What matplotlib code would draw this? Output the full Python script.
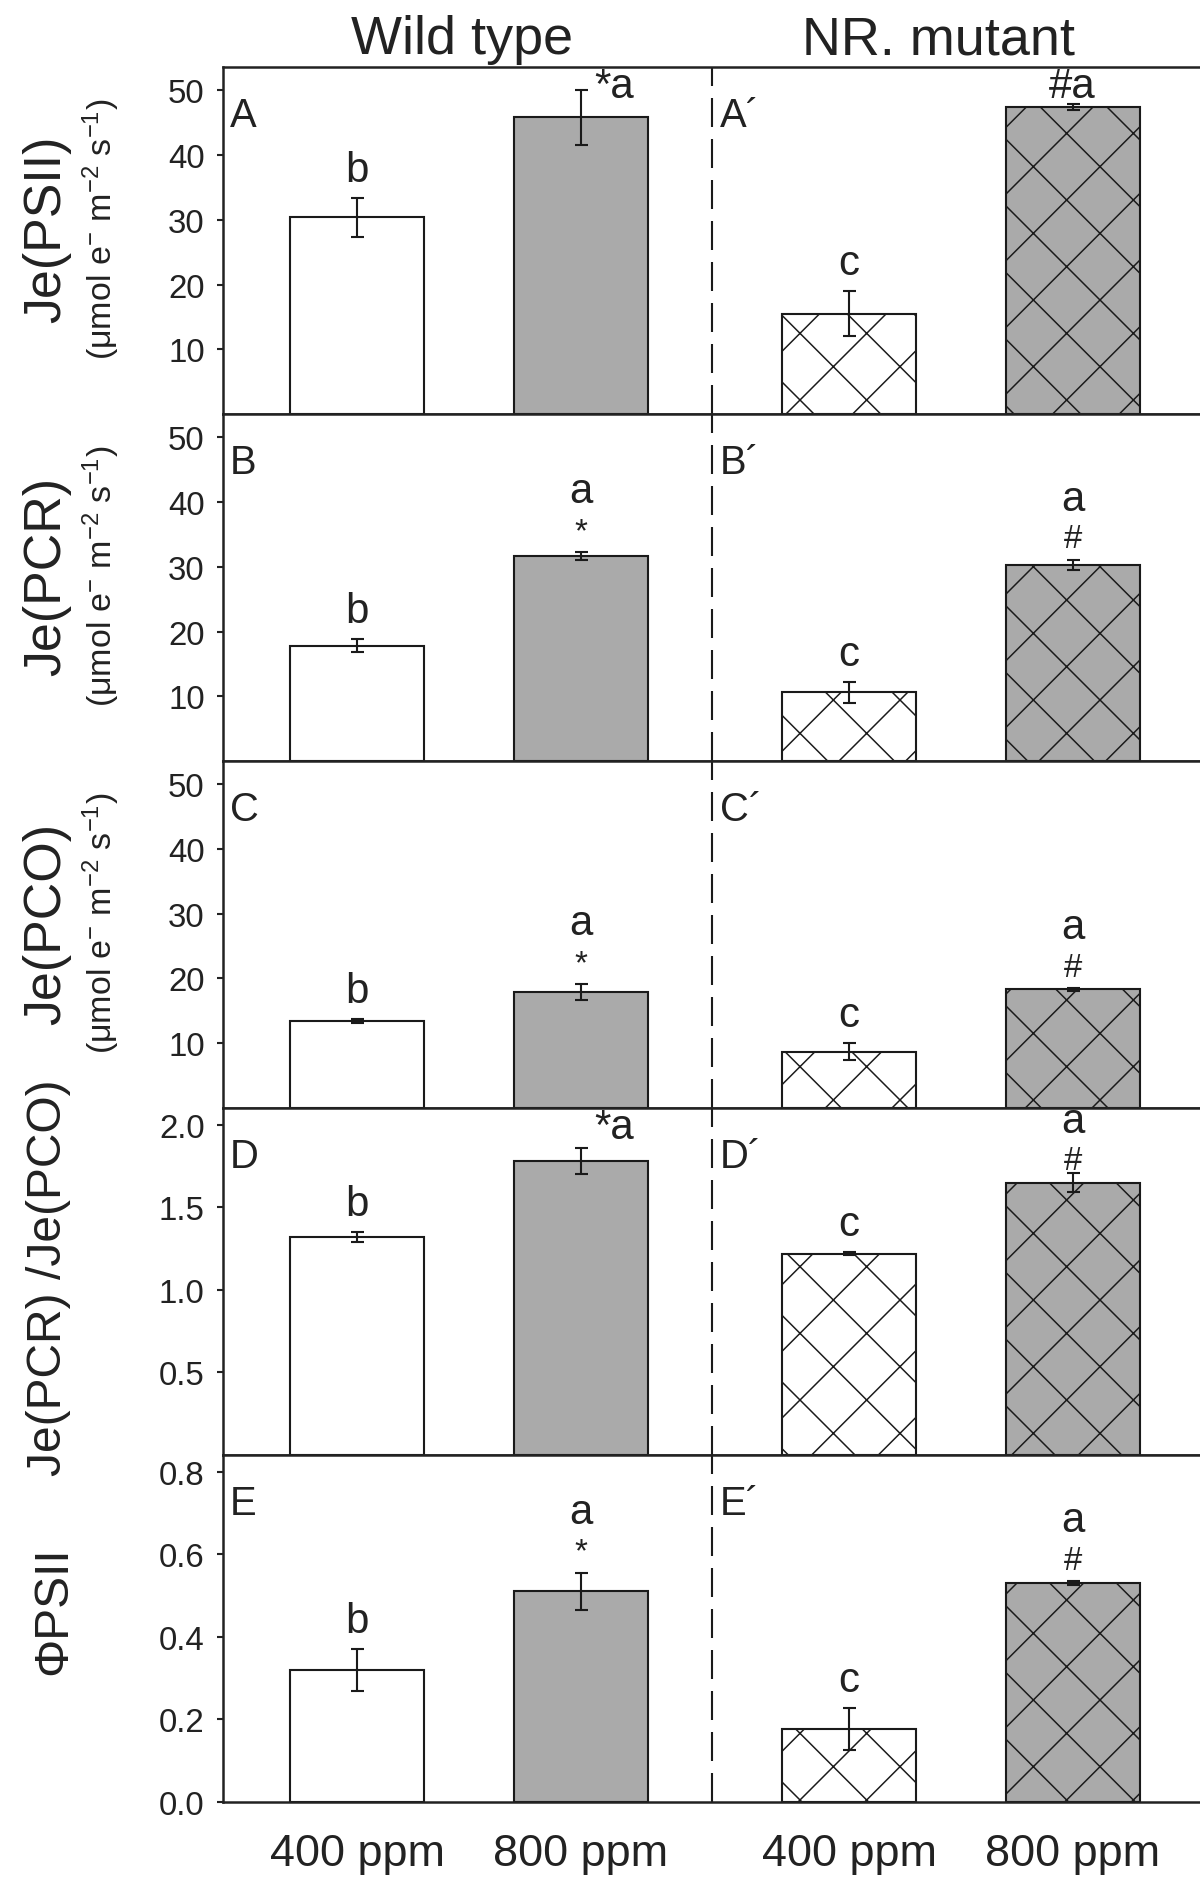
import matplotlib
matplotlib.use('Agg')
import matplotlib.pyplot as plt

DPI = 200  # chosen so that the 'x' hatch has about the reference spacing


def P(px):
    # size given in output pixels -> points
    return px * 72.0 / DPI


# fonts / style
plt.rcParams['font.family'] = ['Liberation Sans', 'DejaVu Sans']
plt.rcParams['mathtext.default'] = 'regular'
plt.rcParams['hatch.linewidth'] = P(1.5)
plt.rcParams['lines.scale_dashes'] = False

# data
groups = ['Wild type', 'NR. mutant']
treatments = ['400 ppm', '800 ppm', '400 ppm', '800 ppm']
panel_names = ['A', 'B', 'C', 'D', 'E']

jpsii = [30.4, 45.8, 15.5, 47.4]
jpsii_err = [3.0, 4.2, 3.5, 0.4]
jpcr = [17.8, 31.6, 10.6, 30.3]
jpcr_err = [1.0, 0.6, 1.6, 0.8]
jpco = [13.5, 17.9, 8.7, 18.3]
jpco_err = [0.3, 1.2, 1.3, 0.2]
ratio = [1.32, 1.78, 1.22, 1.65]
ratio_err = [0.03, 0.08, 0.01, 0.06]
phipsii = [0.32, 0.51, 0.177, 0.53]
phipsii_err = [0.05, 0.045, 0.05, 0.005]

values = [jpsii, jpcr, jpco, ratio, phipsii]
errors = [jpsii_err, jpcr_err, jpco_err, ratio_err, phipsii_err]

letters = ['b', 'a', 'c', 'a']
signif = ['', '*', '', '#']
# labels written on one line ("*a") just under the panel top
inline = [[False, True, False, True],
          [False, False, False, False],
          [False, False, False, False],
          [False, True, False, False],
          [False, False, False, False]]

main_labels = ['Je(PSII)', 'Je(PCR)', 'Je(PCO)', 'Je(PCR) /Je(PCO)', '\u03a6PSII']
unit_label = '(\u03bcmol e$^{-}$ m$^{-2}$ s$^{-1}$)'
has_unit = [True, True, True, False, False]

ymax = [53.5, 53.5, 53.5, 2.1, 0.84]
yticks = [[10, 20, 30, 40, 50], [10, 20, 30, 40, 50], [10, 20, 30, 40, 50],
          [0.5, 1.0, 1.5, 2.0], [0.0, 0.2, 0.4, 0.6, 0.8]]
ytick_fmt = ['{:.0f}', '{:.0f}', '{:.0f}', '{:.1f}', '{:.1f}']

# layout
xpos = [0, 1, 2.2, 3.2]
bar_w = 0.6
divider = 1.586
fills = ['white', '#aaaaaa', 'white', '#aaaaaa']
hatches = ['', '', 'x', 'x']
ink = '#222222'
edge = '#1a1a1a'

W, H = 1200, 1881
fig = plt.figure(figsize=(W / DPI, H / DPI), dpi=DPI)
left, width = 0.186, 0.814
bottom0, h = 0.04145, 0.18444
ax_px = h * H  # axes height in pixels

for k in range(5):
    ax = fig.add_axes([left, bottom0 + (4 - k) * h, width, h])
    vals, errs = values[k], errors[k]
    bars = ax.bar(xpos, vals, width=bar_w, color=fills, edgecolor=edge,
                  linewidth=P(2.1), zorder=2)
    for b, hat in zip(bars, hatches):
        b.set_hatch(hat)
    ax.errorbar(xpos, vals, yerr=errs, fmt='none', ecolor=edge,
                elinewidth=P(2.1), capsize=P(6.5), capthick=P(2.1), zorder=3)
    ax.axvline(divider, color=edge, lw=P(2.1), dashes=(P(29), P(12)), zorder=1)

    ax.set_xlim(-0.6, 3.77)
    ax.set_ylim(0, ymax[k])
    ax.set_yticks(yticks[k])
    ax.set_yticklabels([ytick_fmt[k].format(t) for t in yticks[k]])
    ax.tick_params(axis='y', direction='out', length=P(6), width=P(2.1),
                   pad=P(12.5), labelsize=P(33), colors=ink)
    ax.set_xticks(xpos)
    if k == 4:
        ax.set_xticklabels(treatments)
        ax.tick_params(axis='x', length=0, pad=P(31), labelsize=P(45),
                       colors=ink)
    else:
        ax.set_xticklabels([])
        ax.tick_params(axis='x', length=0)
    for s in ['left', 'top', 'bottom']:
        ax.spines[s].set_linewidth(P(2.5))
        ax.spines[s].set_color(ink)
    ax.spines['right'].set_visible(False)

    # panel letters
    ax.annotate(panel_names[k], (0, 1), xycoords='axes fraction',
                xytext=(P(7), P(-29)), textcoords='offset points',
                ha='left', va='top', fontsize=P(40), color=ink)
    ax.annotate(panel_names[k] + '\u00b4', (divider, 1),
                xycoords=('data', 'axes fraction'),
                xytext=(P(8), P(-29)), textcoords='offset points',
                ha='left', va='top', fontsize=P(40), color=ink)

    # significance letters
    pxu = ax_px / ymax[k]  # pixels per data unit
    for i in range(4):
        top = vals[i] + errs[i]
        if inline[k][i]:
            dx = 0.15 if i == 1 else 0.0
            ax.annotate(signif[i] + letters[i], (xpos[i] + dx, 1),
                        xycoords=('data', 'axes fraction'),
                        xytext=(0, P(-30)), textcoords='offset points',
                        ha='center', va='baseline', fontsize=P(42),
                        color=ink)
        elif signif[i]:
            y_let = min(top + 50 / pxu, ymax[k] - 24 / pxu)
            y_sym = min(top + 12.5 / pxu, y_let - 37 / pxu)
            ax.text(xpos[i], y_sym, signif[i], ha='center', va='baseline',
                    fontsize=P(33), color=ink)
            ax.text(xpos[i], y_let, letters[i], ha='center', va='baseline',
                    fontsize=P(42), color=ink)
        else:
            ax.annotate(letters[i], (xpos[i], top), xytext=(0, P(17)),
                        textcoords='offset points', ha='center',
                        va='baseline', fontsize=P(42), color=ink)

    # y labels
    if has_unit[k]:
        ax.text(-0.181, 0.535, main_labels[k], transform=ax.transAxes,
                rotation=90, ha='center', va='center', fontsize=P(52),
                color=ink)
        ax.text(-0.125, 0.535, unit_label, transform=ax.transAxes,
                rotation=90, ha='center', va='center', fontsize=P(34),
                color=ink)
    else:
        xl = -0.179 if k == 3 else -0.173
        yl = 0.514 if k == 3 else 0.555
        ax.text(xl, yl, main_labels[k], transform=ax.transAxes,
                rotation=90, ha='center', va='center', fontsize=P(48),
                color=ink)

    if k == 0:
        ax.annotate(groups[0], (0.47, 1), xycoords=('data', 'axes fraction'),
                    xytext=(0, P(14)), textcoords='offset points',
                    ha='center', va='baseline', fontsize=P(54), color=ink)
        ax.annotate(groups[1], (2.6, 1), xycoords=('data', 'axes fraction'),
                    xytext=(0, P(14)), textcoords='offset points',
                    ha='center', va='baseline', fontsize=P(54), color=ink)

fig.savefig('out.png', dpi=DPI, facecolor='white')
